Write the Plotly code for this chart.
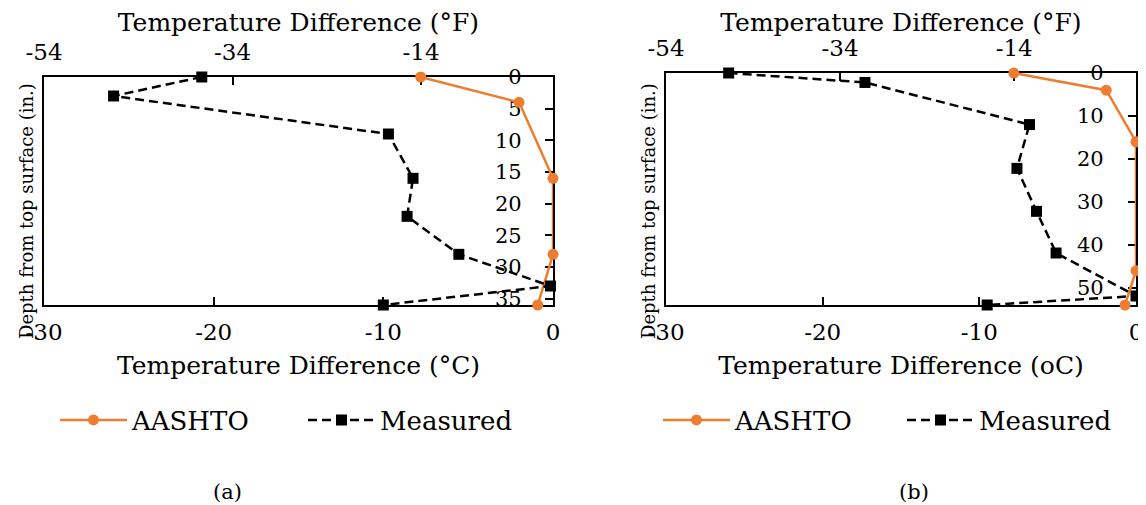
import plotly.graph_objects as go

# ---------------- data ----------------
# Panel (a)
a_aashto_depth = [0, 4, 16, 28, 36]
a_aashto_temp = [-7.8, -2.0, 0.0, 0.0, -0.9]
a_meas_depth = [0, 3, 9, 16, 22, 28, 33, 36]
a_meas_temp = [-20.7, -25.9, -9.7, -8.25, -8.6, -5.55, -0.15, -10.0]

# Panel (b)
b_aashto_depth = [0, 4, 16, 46, 54]
b_aashto_temp = [-7.8, -1.9, 0.0, 0.0, -0.7]
b_meas_depth = [0, 2.2, 12, 22.2, 32.2, 41.9, 51.9, 54]
b_meas_temp = [-26.0, -17.3, -6.8, -7.6, -6.35, -5.1, 0.0, -9.5]

c_ticks = [-30, -20, -10, 0]
c_ticktext = ["-30", "-20", "-10", "0"]
f_ticks = [-54, -34, -14]
f_ticktext = ["-54", "-34", "-14"]
a_depth_ticks = [0, 5, 10, 15, 20, 25, 30, 35]
b_depth_ticks = [0, 10, 20, 30, 40, 50]

ORANGE = "#ED7D31"
FONT = "DejaVu Serif"
OFF = 8                      # default page margin around the plot div
W, H = 1146 - OFF, 505 - OFF


def px_x(p):
    return (p - OFF) / W


def px_y(p):
    return 1 - (p - OFF) / H


def depth_text(ticks):
    # figure-space padding keeps the labels right-aligned like the original
    width = max(len(str(t)) for t in ticks)
    return ["\u2007" * (width - len(str(t))) + str(t) for t in ticks]


fig = go.Figure()

panels = [
    dict(ad=a_aashto_depth, at=a_aashto_temp, md=a_meas_depth, mt=a_meas_temp,
         x=(44, 553), y=(77, 305), yr=[36, 0], yt=a_depth_ticks, leg="legend",
         ctitle="Temperature Difference (°C)", xs="x", ys="y", xf="x3", so=-64),
    dict(ad=b_aashto_depth, at=b_aashto_temp, md=b_meas_depth, mt=b_meas_temp,
         x=(666, 1136), y=(73, 305), yr=[54, 0], yt=b_depth_ticks, leg="legend2",
         ctitle="Temperature Difference (oC)", xs="x2", ys="y2", xf="x4", so=-65),
]

for p in panels:
    fig.add_trace(go.Scatter(
        x=p["at"], y=p["ad"], mode="lines+markers", name="AASHTO",
        line=dict(color=ORANGE, width=2.5),
        marker=dict(symbol="circle", size=11, color=ORANGE),
        xaxis=p["xs"], yaxis=p["ys"], legend=p["leg"], cliponaxis=False))
    fig.add_trace(go.Scatter(
        x=p["mt"], y=p["md"], mode="lines+markers", name="Measured",
        line=dict(color="black", width=2.5, dash="9px,5px"),
        marker=dict(symbol="square", size=11, color="black"),
        xaxis=p["xs"], yaxis=p["ys"], legend=p["leg"], cliponaxis=False))
    # same AASHTO series expressed in °F to bind the top (°F) axis
    fig.add_trace(go.Scatter(
        x=[v * 1.8 for v in p["at"]], y=p["ad"], mode="lines",
        line=dict(width=0, color="rgba(0,0,0,0)"), showlegend=False,
        hoverinfo="skip", xaxis=p["xf"], yaxis=p["ys"]))

tickfont = dict(family=FONT, size=23, color="black")
titlefont = dict(family=FONT, size=25, color="black")

layout = dict(
    template="none",
    width=W, height=H, margin=dict(l=0, r=0, t=0, b=0, autoexpand=False),
    paper_bgcolor="white", plot_bgcolor="white", showlegend=True,
    font=dict(family=FONT, color="black"),
)

for i, p in enumerate(panels):
    xn = "xaxis" if i == 0 else "xaxis2"
    yn = "yaxis" if i == 0 else "yaxis2"
    fn = "xaxis3" if i == 0 else "xaxis4"
    xdom = [px_x(p["x"][0]), px_x(p["x"][1])]
    ydom = [px_y(p["y"][1]), px_y(p["y"][0])]
    layout[xn] = dict(
        domain=xdom, anchor=p["ys"], range=[-30, 0], tickvals=c_ticks,
        ticktext=c_ticktext, automargin=False, layer="below traces",
        ticks="inside", ticklen=8, tickwidth=1.5, tickcolor="black",
        ticklabelstandoff=6,
        showline=True, linecolor="black", linewidth=1.5, mirror=True,
        showgrid=False, zeroline=False, tickfont=tickfont,
        title=dict(text=p["ctitle"], font=titlefont, standoff=12))
    layout[fn] = dict(
        overlaying=p["xs"], side="top", anchor=p["ys"], range=[-54, 0],
        tickvals=f_ticks, ticktext=f_ticktext, automargin=False,
        layer="below traces",
        ticks="inside", ticklen=8, tickwidth=1.5, ticklabelstandoff=11,
        tickcolor="black", showline=False, showgrid=False, zeroline=False,
        tickfont=tickfont,
        title=dict(text="Temperature Difference (°F)", font=titlefont, standoff=4))
    layout[yn] = dict(
        domain=ydom, anchor=p["xs"], side="right", range=p["yr"],
        tickvals=p["yt"], ticktext=depth_text(p["yt"]), automargin=False,
        layer="below traces",
        ticks="inside", ticklen=8, tickwidth=1.5,
        tickcolor="black", ticklabelposition="outside", ticklabelstandoff=p["so"],
        showline=True, linecolor="black", linewidth=1.5, mirror=True,
        showgrid=False, zeroline=False,
        tickfont=dict(family=FONT, size=21, color="black"))

legfont = dict(family=FONT, size=26, color="black")
layout["legend"] = dict(orientation="h", x=px_x(55), y=px_y(420), xanchor="left",
                        yanchor="middle", font=legfont, itemwidth=67,
                        entrywidth=166, bgcolor="rgba(0,0,0,0)")
layout["legend2"] = dict(orientation="h", x=px_x(658), y=px_y(420), xanchor="left",
                         yanchor="middle", font=legfont, itemwidth=67,
                         entrywidth=162, bgcolor="rgba(0,0,0,0)")

fig.update_layout(**layout)

ytitle = "Depth from top surface (in.)"
for p, lbl, lx in [(panels[0], "(a)", 227), (panels[1], "(b)", 914)]:
    fig.add_annotation(text=ytitle, xref="paper", yref="paper",
                       x=px_x(p["x"][0] - 18), y=px_y(211), textangle=-90,
                       showarrow=False, font=dict(family=FONT, size=18, color="black"),
                       xanchor="center", yanchor="middle")
    fig.add_annotation(text=lbl, xref="paper", yref="paper",
                       x=px_x(lx), y=px_y(492), showarrow=False,
                       font=dict(family=FONT, size=21, color="black"),
                       xanchor="center", yanchor="middle")

fig.write_html("out.html")
